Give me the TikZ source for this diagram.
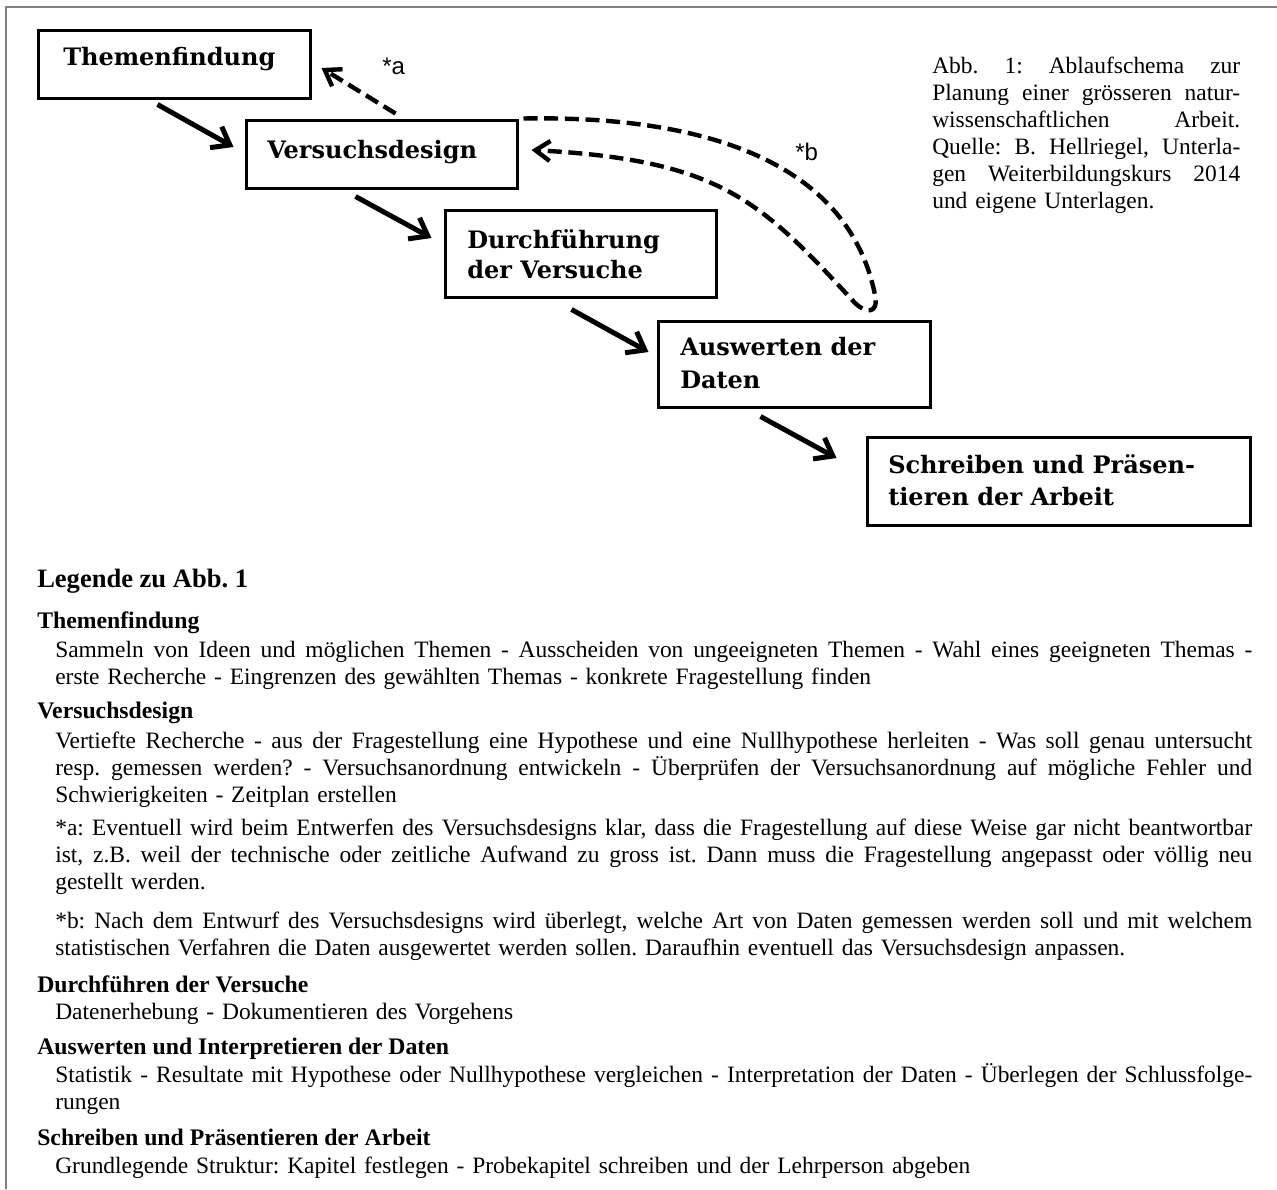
\documentclass[tikz,border=0pt]{standalone}
\usepackage{fontspec}
\setmainfont{Liberation Serif}
\newfontfamily\boxfont{DejaVu Serif}
\newfontfamily\lblfont{Liberation Sans}
\usetikzlibrary{arrows.meta,calc,fit}
\newcommand\JLine[1]{\hbox to\hsize{\spaceskip=0.25em plus 1fil minus 0.06em\relax #1}\par}
\begin{document}
\begin{tikzpicture}[x=0.75pt,y=-0.75pt,
  box/.style={draw, line width=2.25pt, inner sep=0pt},
  btext/.style={anchor=base west, inner sep=0pt, font=\boxfont\bfseries\fontsize{18pt}{21pt}\selectfont},
  flow/.style={line width=3.75pt, -{Straight Barb[length=12pt,width=18pt]}},
  back/.style={line width=3.3pt, dash pattern=on 10.5pt off 5pt, -{Straight Barb[length=11pt,width=15pt]}},
  lbl/.style={anchor=base west, inner sep=0pt, font=\lblfont\fontsize{18pt}{20pt}\selectfont},
  para/.style={anchor=base west, inner sep=0pt, text width=897.75pt, font=\frenchspacing\fontsize{17.6pt}{20.25pt}\selectfont},
  captext/.style={anchor=base west, inner sep=0pt, text width=231pt, font=\frenchspacing\fontsize{17.6pt}{20.25pt}\selectfont},
  head/.style={anchor=base west, inner sep=0pt, font=\frenchspacing\bfseries\fontsize{17.8pt}{20pt}\selectfont},
  frame/.style={draw=gray, line width=1.1pt}]
\useasboundingbox (0,0) rectangle (1277,1189);
\draw[frame] (6,1189) -- (6,7) -- (1277,7);

% boxes
\node[box, fit={(38,30) (310,98)}] (tf) {};
\node[btext] (tft) at (63,65) {Themenfindung};
\node[box, fit={(246,120) (517,188)}] (vd) {};
\node[btext] (vdt) at (267,158) {Versuchsdesign};
\node[box, fit={(445,210) (716,297)}] (df) {};
\node[btext] (dft1) at (467,248) {Durchführung};
\node[btext] (dft2) at (467,278) {der Versuche};
\node[box, fit={(658,321) (930,407)}] (aw) {};
\node[btext] (awt1) at (680,355) {Auswerten der};
\node[btext] (awt2) at (680,388) {Daten};
\node[box, fit={(867,437) (1250,525)}] (sp) {};
\node[btext] (spt1) at (888,473) {Schreiben und Präsen-};
\node[btext] (spt2) at (888,505) {tieren der Arbeit};

% flow arrows
\draw[flow] ($(tf.south west)+(121,5)$) -- ($(vd.west)+(-11,-7)$);
\draw[flow] ($(vd.south west)+(111,7)$) -- ($(df.west)+(-12,-15.5)$);
\draw[flow] ($(df.south west)+(128,11)$) -- ($(aw.west)+(-8,-12)$);
\draw[flow] ($(aw.south west)+(104,8)$) -- ($(sp.west)+(-29,-23)$);

% feedback arrows
\draw[back] ($(vd.north west)+(151,-5)$) -- ($(tf.east)+(10,4)$);
\draw[back] ($(vd.north east)+(5,0)$) .. controls (720,115) and (850,170) .. (875,295)
  .. controls (879,315) and (865,313) .. (855,303)
  .. controls (760,200) and (720,160) .. ($(vd.east)+(13,-4)$);
\node[lbl] (la) at (382,74) {*a};
\node[lbl] (lb) at (795,160) {*b};

% caption
\node[captext] (caption) at (932,73) {\JLine{Abb. 1: Ablaufschema zur}\JLine{Planung einer grösseren natur-}\JLine{wissenschaftlichen Arbeit.}\JLine{Quelle: B. Hellriegel, Unterla-}\JLine{gen Weiterbildungskurs 2014}\noindent und eigene Unterlagen.};

% legend
\node[anchor=base west, inner sep=0pt, font=\frenchspacing\bfseries\fontsize{19.9pt}{24pt}\selectfont] (leg) at (37,587) {Legende zu Abb. 1};
\node[head] (h1) at (37,628) {Themenfindung};
\node[para] (p1) at (55,657) {\JLine{Sammeln von Ideen und möglichen Themen - Ausscheiden von ungeeigneten Themen - Wahl eines geeigneten Themas -}\noindent erste Recherche - Eingrenzen des gewählten Themas - konkrete Fragestellung finden};
\node[head] (h2) at (37,718) {Versuchsdesign};
\node[para] (p2) at (55,748) {\JLine{Vertiefte Recherche - aus der Fragestellung eine Hypothese und eine Nullhypothese herleiten - Was soll genau untersucht}\JLine{resp. gemessen werden? - Versuchsanordnung entwickeln - Überprüfen der Versuchsanordnung auf mögliche Fehler und}\noindent Schwierigkeiten - Zeitplan erstellen};
\node[para] (pa) at (55,835) {\JLine{*a: Eventuell wird beim Entwerfen des Versuchsdesigns klar, dass die Fragestellung auf diese Weise gar nicht beantwortbar}\JLine{ist, z.B. weil der technische oder zeitliche Aufwand zu gross ist. Dann muss die Fragestellung angepasst oder völlig neu}\noindent gestellt werden.};
\node[para] (pb) at (55,928) {\JLine{*b: Nach dem Entwurf des Versuchsdesigns wird überlegt, welche Art von Daten gemessen werden soll und mit welchem}\noindent statistischen Verfahren die Daten ausgewertet werden sollen. Daraufhin eventuell das Versuchsdesign anpassen.};
\node[head] (h3) at (37,992) {Durchführen der Versuche};
\node[para] (p3) at (55,1019) {\noindent Datenerhebung - Dokumentieren des Vorgehens};
\node[head] (h4) at (37,1054) {Auswerten und Interpretieren der Daten};
\node[para] (p4) at (55,1082) {\JLine{Statistik - Resultate mit Hypothese oder Nullhypothese vergleichen - Interpretation der Daten - Überlegen der Schlussfolge-}\noindent rungen};
\node[head] (h5) at (37,1145) {Schreiben und Präsentieren der Arbeit};
\node[para] (p5) at (55,1173) {\noindent Grundlegende Struktur: Kapitel festlegen - Probekapitel schreiben und der Lehrperson abgeben};
\end{tikzpicture}
\end{document}
